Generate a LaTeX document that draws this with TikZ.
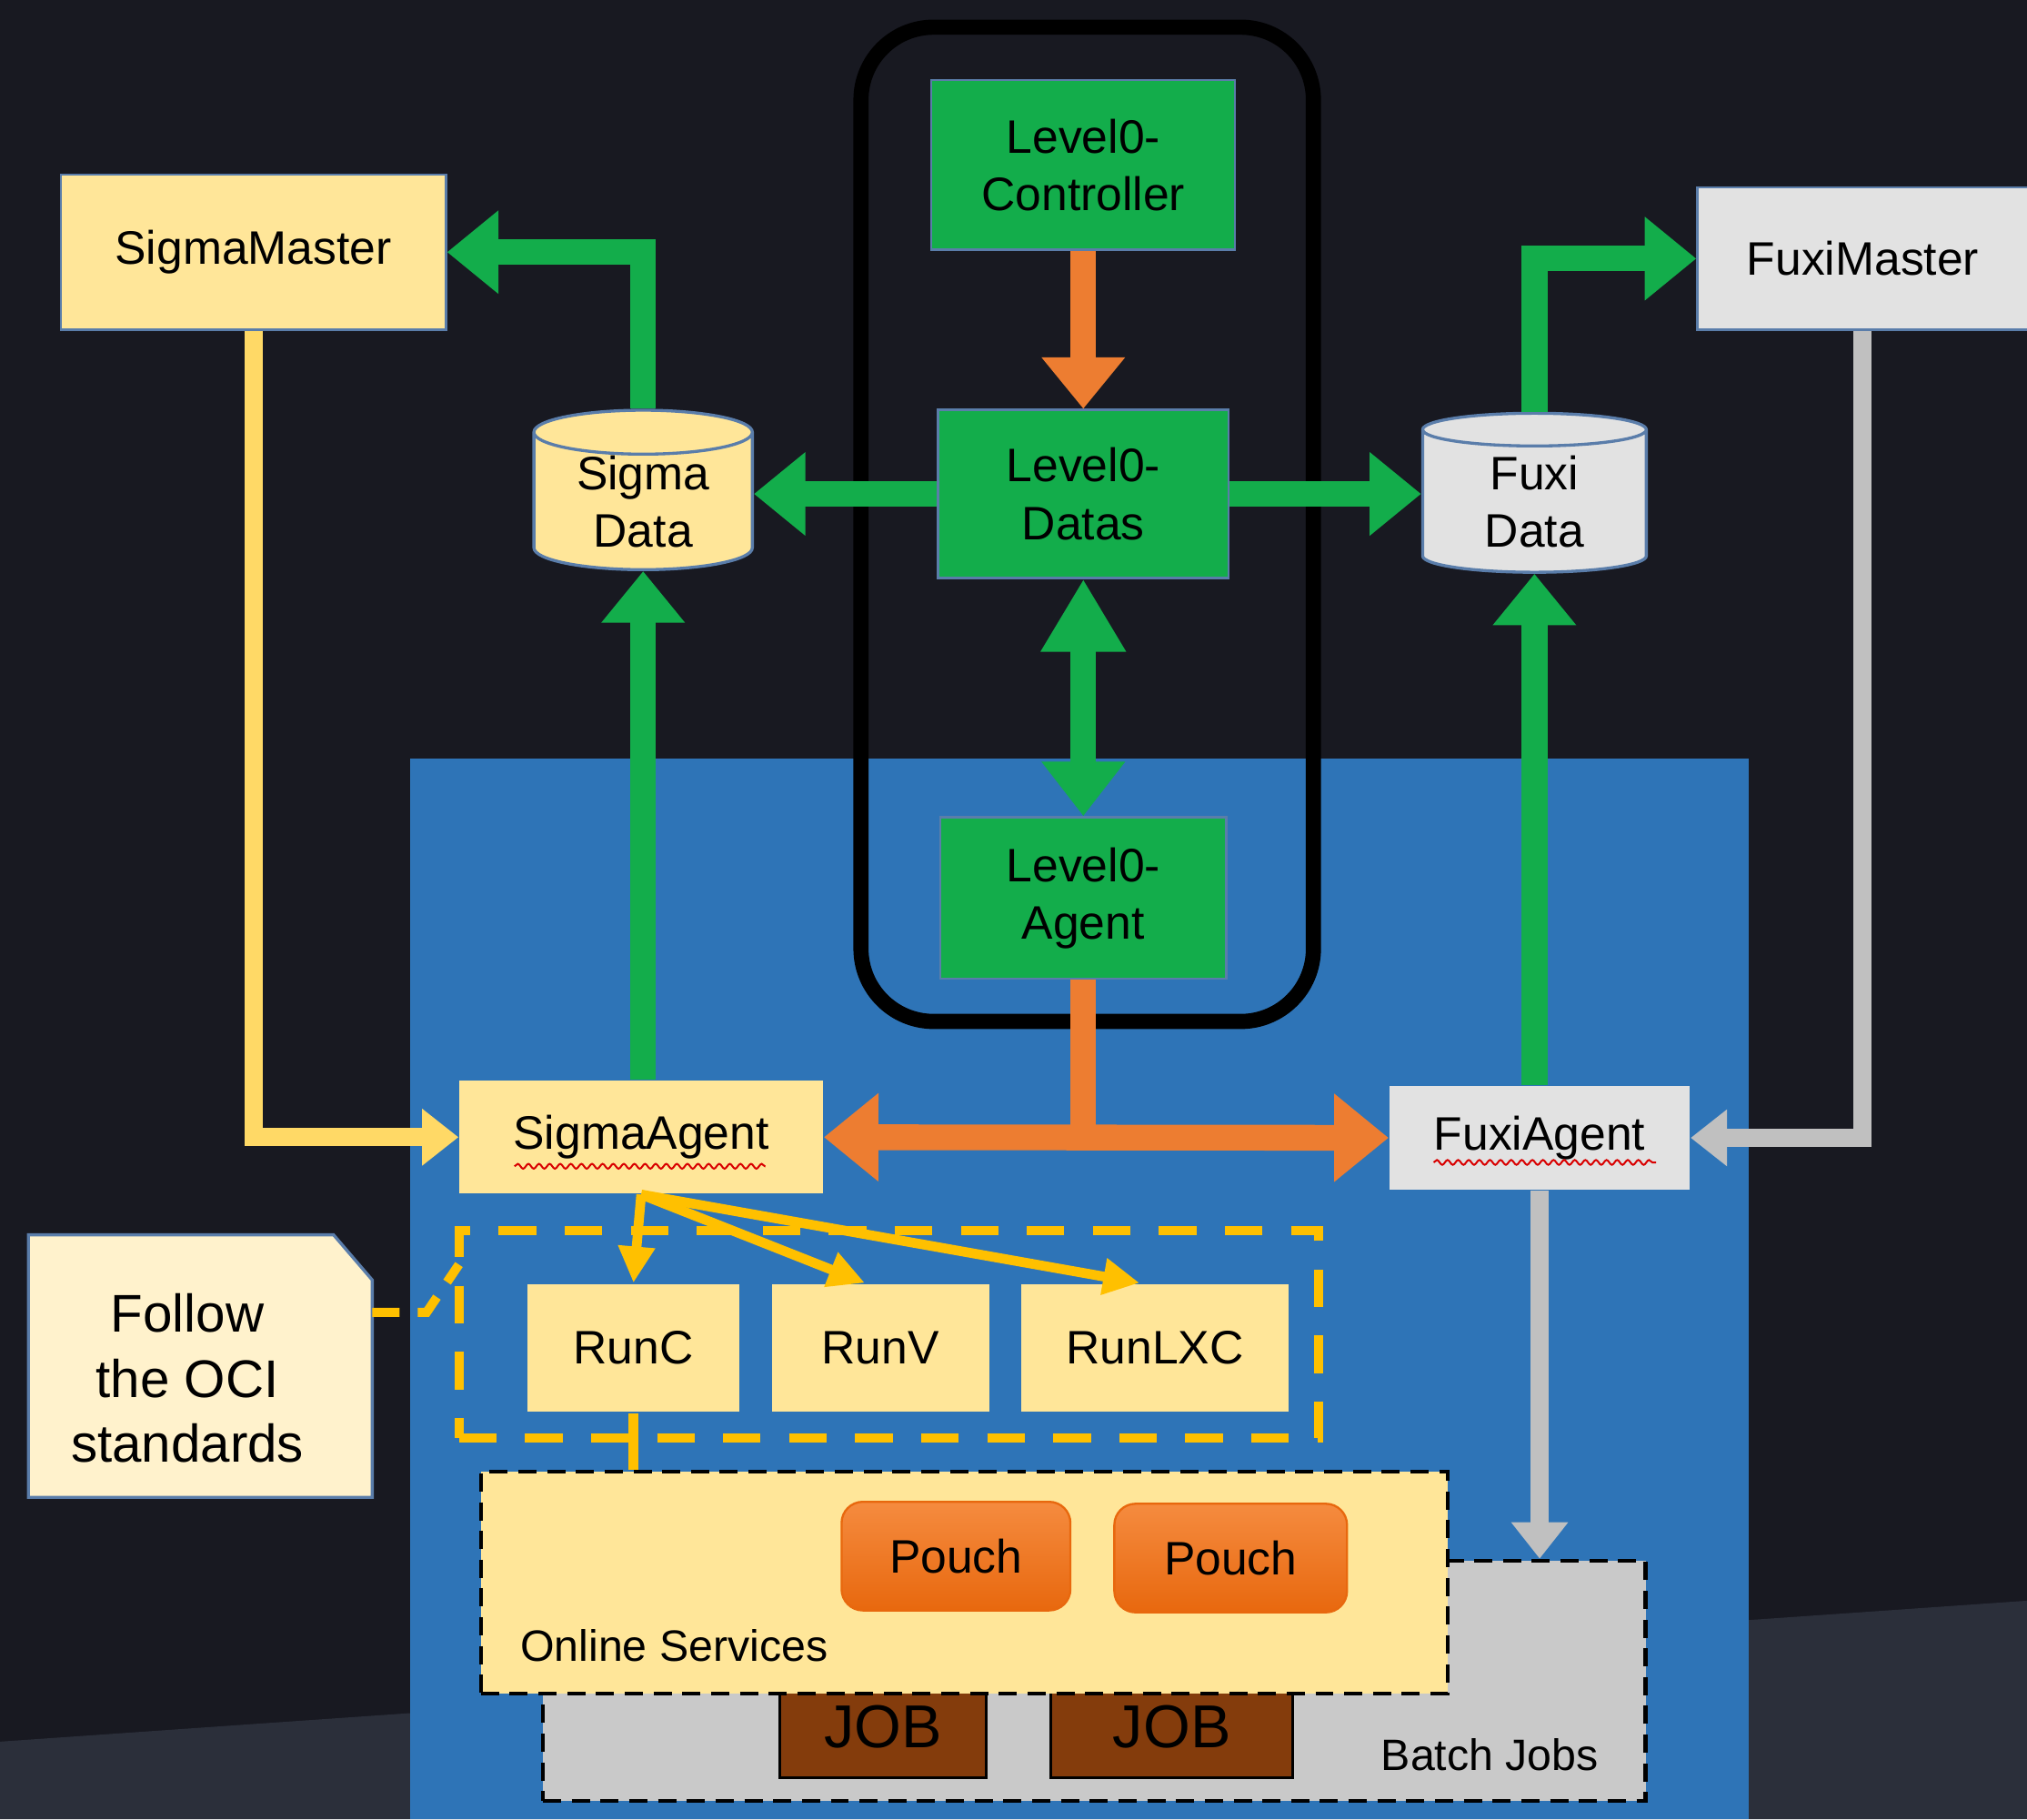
\documentclass[tikz,border=0pt]{standalone}
\usepackage{fontspec}
\setmainfont{Liberation Sans}
\usetikzlibrary{arrows.meta,shapes.geometric,decorations.pathmorphing}

\newlength\pxu
\setlength\pxu{0.015cm}

\definecolor{bgdark}{HTML}{181921}
\definecolor{bgband}{HTML}{2B2F3A}
\definecolor{hostblue}{HTML}{2E74B7}
\definecolor{lvgreen}{HTML}{13AD4B}
\definecolor{lvorange}{HTML}{ED7D31}
\definecolor{sigmafill}{HTML}{FFE699}
\definecolor{notefill}{HTML}{FFF2CC}
\definecolor{fuxifill}{HTML}{E2E2E2}
\definecolor{fuxiline}{HTML}{C0C0C0}
\definecolor{batchfill}{HTML}{C9C9C9}
\definecolor{ocigold}{HTML}{FFC000}
\definecolor{sigmaline}{HTML}{FFD966}
\definecolor{jobbrown}{HTML}{843C0C}
\definecolor{boxedge}{HTML}{5A7DAA}
\definecolor{pouchtop}{HTML}{F58B3F}
\definecolor{pouchbot}{HTML}{E8680E}

\tikzset{
  sz/.style 2 args={minimum width=#1\pxu, minimum height=#2\pxu},
  box/.style={draw=boxedge, line width=0.7pt, inner sep=0pt, align=center,
    text=black, font=\fontsize{15.5}{19}\selectfont},
  lvbox/.style={box, fill=lvgreen},
  sigmabox/.style={box, fill=sigmafill},
  fuxibox/.style={box, fill=fuxifill},
  runbox/.style={box, draw=none, fill=sigmafill, sz={#1}{99}},
  store/.style={box, line width=1pt, cylinder, shape border rotate=90, aspect=0.33},
  pouchbox/.style={box, draw=pouchbot, rounded corners=7pt, top color=pouchtop,
    bottom color=pouchbot, sz={#1}{84}},
  jobbox/.style={draw=black, line width=1pt, fill=jobbrown, inner sep=0pt,
    sz={#1}{79}, font=\fontsize{20}{24}\selectfont},
  label/.style={anchor=west, inner sep=0pt, font=\fontsize{14.5}{17}\selectfont},
  fatgreen/.style={draw=lvgreen, line width=8.5pt, -{Triangle[width=26.5pt,length=17pt]}},
  fatorange/.style={draw=lvorange, line width=8.5pt, -{Triangle[width=26.5pt,length=17pt]}},
  thinlink/.style={line width=6pt, -{Triangle[width=18pt,length=12pt]}},
  runlink/.style={draw=ocigold, line width=3.2pt, -{Triangle[width=11.5pt,length=12pt]}},
  spell/.style={draw=red!85!black, line width=0.6pt, decorate,
    decoration={snake, amplitude=0.8pt, segment length=3.5pt}},
  golddash/.style={draw=ocigold, line width=3pt, dash pattern=on 12.4pt off 9.4pt},
  blackdash/.style={draw=black, line width=1.3pt, dash pattern=on 6pt off 3.5pt},
}

\begin{document}
\begin{tikzpicture}[x=0.015cm, y=-0.015cm]
\path[use as bounding box, clip] (0,0) rectangle (1568,1407);
\fill[bgdark] (0,0) rectangle (1568,1407);
\fill[bgband] (0,1347) -- (1568,1238) -- (1568,1407) -- (0,1407) -- cycle;
\fill[hostblue] (317,587) rectangle (1353,1407);
\draw[black, line width=5pt, rounded corners=24pt] (666,21) rectangle (1016,790);

\node[lvbox, sz={235}{131}] (ctrl) at (838,127.5) {Level0-\\Controller};
\node[lvbox, sz={225}{130}] (datas) at (838,382) {Level0-\\Datas};
\node[lvbox, sz={221}{125}] (l0agent) at (838,694.5) {Level0-\\Agent};
\node[store, fill=sigmafill, sz={169}{123}] (sdata) at (497.5,388) {Sigma\\Data};
\node[store, fill=fuxifill, sz={173}{123}] (fdata) at (1187,388) {Fuxi\\Data};
\node[sigmabox, sz={298}{120}] (smaster) at (196,195) {SigmaMaster};
\node[fuxibox, sz={256}{110}] (fmaster) at (1441,200) {FuxiMaster};
\node[sigmabox, draw=none, sz={281}{87}] (sagent) at (496,879.5) {SigmaAgent};
\node[fuxibox, draw=none, sz={232}{80}] (fagent) at (1191,880) {FuxiAgent};
\draw[spell] (398,902) -- (592,902);
\draw[spell] (1109,899) -- (1281,899);

\node[blackdash, fill=batchfill, sz={853}{186}] (batch) at (846.5,1300) {};
\node[label] (batchlbl) at (1068,1357) {Batch Jobs};
\node[jobbox, sz={160}{79}] (job1) at (683,1335.5) {JOB};
\node[jobbox, sz={187}{79}] (job2) at (906.5,1335.5) {JOB};
\node[blackdash, fill=sigmafill, sz={748}{172}] (online) at (746,1224) {};
\node[label] (onlinelbl) at (402,1273) {Online Services};
\node[pouchbox=177] (pouch1) at (739.5,1203.5) {Pouch};
\node[pouchbox=180] (pouch2) at (952,1205) {Pouch};

\node[golddash, sz={665}{160}] (oci) at (687.5,1032) {};
\node[runbox=164] (runc) at (490,1042.5) {RunC};
\node[runbox=168] (runv) at (681,1042.5) {RunV};
\node[runbox=207] (runlxc) at (893.5,1042.5) {RunLXC};

\filldraw[fill=notefill, draw=boxedge, line width=1pt]
  (22,955) -- (258,955) -- (288,990) -- (288,1158) -- (22,1158) -- cycle;
\node[align=center, font=\fontsize{17.5}{21.5}\selectfont] (note) at (145,1066) {Follow\\the OCI\\standards};
\coordinate (notetip) at (288,1015);
\draw[golddash, dash pattern=on 9pt off 6pt] (notetip) -- (330,1015) -- (355,978);

\draw[fatorange] (ctrl.south) -- (datas.north);
\draw[fatgreen] (datas.west) -- (datas.west -| sdata.east);
\draw[fatgreen] (datas.east) -- (datas.east -| fdata.west);
\draw[fatgreen] (sdata.north) |- (smaster.east);
\draw[fatgreen] (fdata.north) |- (fmaster.west);
\draw[fatgreen, {Triangle[width=26.5pt,length=24pt]}-{Triangle[width=26.5pt,length=18pt]}] (datas.south) -- (l0agent.north);
\draw[fatgreen] (sdata.south |- sagent.north) -- (sdata.south);
\draw[fatgreen] (fdata.south |- fagent.north) -- (fdata.south);
\draw[draw=lvorange, line width=8.5pt] (l0agent.south) -- (l0agent.south |- sagent.east);
\draw[fatorange, {Triangle[width=28pt,length=18pt]}-{Triangle[width=28pt,length=18pt]}] (sagent.east) -- (fagent.west);
\draw[thinlink, draw=sigmaline] (smaster.south) |- (sagent.west);
\draw[thinlink, draw=fuxiline] (fmaster.south) |- (fagent.east);
\draw[thinlink, draw=fuxiline] (fagent.south) -- (fagent.south |- batch.north);

\coordinate (fanout) at (sagent.south);
\draw[runlink] (fanout) -- (runc.north);
\draw[runlink] (fanout) -- ([xshift=-12\pxu]runv.north);
\draw[runlink] (fanout) -- ([xshift=-12\pxu]runlxc.north);
\draw[draw=ocigold, line width=3.5pt] (runc.south) -- (runc.south |- online.north);
\end{tikzpicture}
\end{document}
